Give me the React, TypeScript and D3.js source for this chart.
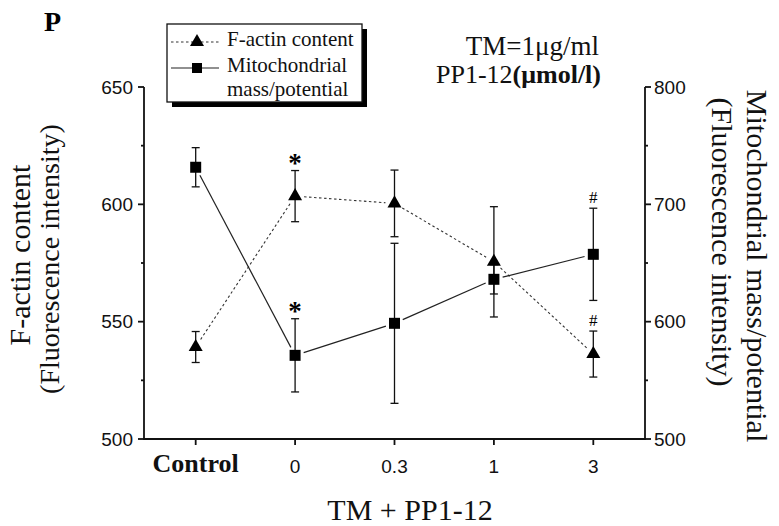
import React from "react";
import * as d3 from "d3";

const categories = ["Control", "0", "0.3", "1", "3"];
const factin = [539.2, 603.5, 600.4, 575.5, 536.2];
const factinErr = [6.6, 10.9, 14.2, 23.5, 9.8];
const mito = [731.6, 571.3, 598.6, 636.1, 657.4];
const mitoErr = [16.7, 31.2, 68.2, 12.5, 39.3];
const leftTicks = [500, 550, 600, 650];
const rightTicks = [500, 600, 700, 800];
// significance marks: [category, symbol]
const factinMarks = [["0", "*"], ["3", "#"]];
const mitoMarks = [["0", "*"], ["3", "#"]];

const W = 779;
const H = 526;
const SERIF = "'Liberation Serif', 'Times New Roman', serif";
const SANS = "'Liberation Sans', Arial, sans-serif";

const x = d3.scalePoint<string>().domain(categories).range([144, 645]).padding(0.52);
const yL = d3.scaleLinear().domain([500, 650]).range([439, 87]);
const yR = d3.scaleLinear().domain([500, 800]).range([439, 87]);

const triPath = d3.symbol(d3.symbolTriangle, 85)() as string;
const sqPath = d3.symbol(d3.symbolSquare, 121)() as string;

function minorOf(ticks: number[]) {
  const out: number[] = [];
  for (let i = 0; i < ticks.length - 1; i++) out.push((ticks[i] + ticks[i + 1]) / 2);
  return out;
}

function trimmedSegments(pts: [number, number][], gap: number) {
  const segs: { x1: number; y1: number; x2: number; y2: number }[] = [];
  for (let i = 0; i < pts.length - 1; i++) {
    const [ax, ay] = pts[i];
    const [bx, by] = pts[i + 1];
    const dx = bx - ax, dy = by - ay;
    const len = Math.hypot(dx, dy);
    const ux = dx / len, uy = dy / len;
    segs.push({ x1: ax + ux * gap, y1: ay + uy * gap, x2: bx - ux * gap, y2: by - uy * gap });
  }
  return segs;
}

export default function App() {
  const xL = 144, xR = 645, yB = 439, yT = 87;
  const fPts = categories.map((c, i) => [x(c)!, yL(factin[i])] as [number, number]);
  const mPts = categories.map((c, i) => [x(c)!, yR(mito[i])] as [number, number]);
  const fSegs = trimmedSegments(fPts, 9);
  const mSegs = trimmedSegments(mPts, 9);

  return (
    <svg width={W} height={H} style={{ position: "absolute", left: 0, top: 0, background: "#fff" }}>
      <rect x={0} y={0} width={W} height={H} fill="#fff" />
      {/* Panel letter */}
      <text x={44} y={31} fontFamily={SERIF} fontWeight="bold" fontSize={28}>P</text>

      {/* Axes */}
      <g stroke="#111" strokeWidth={1.8} fill="none">
        <line x1={xL} y1={yT} x2={xL} y2={yB + 0.9} />
        <line x1={xR} y1={yT} x2={xR} y2={yB + 0.9} />
        <line x1={xL} y1={yB} x2={xR} y2={yB} />
        {leftTicks.map((t) => (
          <line key={"lt" + t} x1={xL - 6} x2={xL} y1={yL(t)} y2={yL(t)} />
        ))}
        {minorOf(leftTicks).map((t) => (
          <line key={"lm" + t} x1={xL - 3} x2={xL} y1={yL(t)} y2={yL(t)} />
        ))}
        {rightTicks.map((t) => (
          <line key={"rt" + t} x1={xR} x2={xR + 6} y1={yR(t)} y2={yR(t)} />
        ))}
        {minorOf(rightTicks).map((t) => (
          <line key={"rm" + t} x1={xR} x2={xR + 3} y1={yR(t)} y2={yR(t)} />
        ))}
        {categories.map((c) => (
          <line key={"xt" + c} x1={x(c)!} x2={x(c)!} y1={yB} y2={yB + 6} />
        ))}
      </g>

      {/* Tick labels */}
      <g fontFamily={SANS} fontSize={19} fill="#111">
        {leftTicks.map((t) => (
          <text key={"ll" + t} x={xL - 11} y={yL(t)} textAnchor="end" dominantBaseline="central">{t}</text>
        ))}
        {rightTicks.map((t) => (
          <text key={"rl" + t} x={xR + 9} y={yR(t)} textAnchor="start" dominantBaseline="central">{t}</text>
        ))}
        {categories.map((c, i) =>
          i === 0 ? (
            <text key={"xl" + c} x={x(c)!} y={472} textAnchor="middle" fontFamily={SERIF} fontWeight="bold" fontSize={26}>{c}</text>
          ) : (
            <text key={"xl" + c} x={x(c)!} y={473} textAnchor="middle">{c}</text>
          )
        )}
      </g>

      {/* Axis titles */}
      <text x={410} y={520} textAnchor="middle" fontFamily={SERIF} fontSize={30} fill="#111">TM + PP1-12</text>
      <text transform="translate(30,255) rotate(-90)" textAnchor="middle" fontFamily={SERIF} fontSize={30} fill="#111">F-actin content</text>
      <text transform="translate(59,259) rotate(-90)" textAnchor="middle" fontFamily={SERIF} fontSize={28} fill="#111">(Fluorescence intensity)</text>
      <text transform="translate(747,266) rotate(90)" textAnchor="middle" fontFamily={SERIF} fontSize={30} fill="#111">Mitochondrial mass/potential</text>
      <text transform="translate(712,242) rotate(90)" textAnchor="middle" fontFamily={SERIF} fontSize={30} fill="#111">(Fluorescence intensity)</text>

      {/* Condition text */}
      <text x={599} y={55} textAnchor="end" fontFamily={SERIF} fontSize={27} fill="#111">TM=1μg/ml</text>
      <text x={601} y={83} textAnchor="end" fontFamily={SERIF} fontSize={26} fill="#111">
        PP1-12<tspan fontWeight="bold">(μmol/l)</tspan>
      </text>

      {/* Error bars */}
      <g stroke="#111" strokeWidth={1.3}>
        {categories.map((c, i) => {
          const cx = x(c)!;
          const t = yL(factin[i] + factinErr[i]);
          const b = yL(factin[i] - factinErr[i]);
          return (
            <g key={"fe" + c}>
              <line x1={cx} x2={cx} y1={t} y2={b} />
              <line x1={cx - 4} x2={cx + 4} y1={t} y2={t} />
              <line x1={cx - 4} x2={cx + 4} y1={b} y2={b} />
            </g>
          );
        })}
        {categories.map((c, i) => {
          const cx = x(c)!;
          const t = yR(mito[i] + mitoErr[i]);
          const b = yR(mito[i] - mitoErr[i]);
          return (
            <g key={"me" + c}>
              <line x1={cx} x2={cx} y1={t} y2={b} />
              <line x1={cx - 4} x2={cx + 4} y1={t} y2={t} />
              <line x1={cx - 4} x2={cx + 4} y1={b} y2={b} />
            </g>
          );
        })}
      </g>

      {/* Lines */}
      <g stroke="#333" strokeWidth={1.1} strokeDasharray="2.5,2.5">
        {fSegs.map((s, i) => <line key={"fs" + i} {...s} />)}
      </g>
      <g stroke="#222" strokeWidth={1.2}>
        {mSegs.map((s, i) => <line key={"ms" + i} {...s} />)}
      </g>

      {/* Markers */}
      {fPts.map(([px, py], i) => (
        <path key={"fm" + i} d={triPath} transform={`translate(${px},${py})`} fill="#000" />
      ))}
      {mPts.map(([px, py], i) => (
        <path key={"mm" + i} d={sqPath} transform={`translate(${px},${py})`} fill="#000" />
      ))}

      {/* Significance marks */}
      {factinMarks.map(([c, s]) => {
        const i = categories.indexOf(c);
        const top = yL(factin[i] + factinErr[i]);
        return s === "*" ? (
          <text key={"fk" + c} x={x(c)!} y={top + 1.5} textAnchor="middle" fontFamily={SERIF} fontWeight="bold" fontSize={27}>*</text>
        ) : (
          <text key={"fk" + c} x={x(c)!} y={top - 5} textAnchor="middle" fontFamily={SERIF} fontSize={17}>#</text>
        );
      })}
      {mitoMarks.map(([c, s]) => {
        const i = categories.indexOf(c);
        const top = yR(mito[i] + mitoErr[i]);
        return s === "*" ? (
          <text key={"mk" + c} x={x(c)!} y={top + 1.5} textAnchor="middle" fontFamily={SERIF} fontWeight="bold" fontSize={27}>*</text>
        ) : (
          <text key={"mk" + c} x={x(c)!} y={top - 5} textAnchor="middle" fontFamily={SERIF} fontSize={17}>#</text>
        );
      })}

      {/* Legend */}
      <rect x={172} y={29} width={195} height={78} fill="#000" />
      <rect x={167} y={24} width={195} height={78} fill="#fff" stroke="#111" strokeWidth={1.3} />
      <line x1={171} x2={219} y1={42} y2={42} stroke="#333" strokeWidth={1.1} strokeDasharray="2.5,2.5" />
      <path d={triPath} transform="translate(197,42)" fill="#000" />
      <line x1={171} x2={219} y1={68} y2={68} stroke="#222" strokeWidth={1.2} />
      <path d={d3.symbol(d3.symbolSquare, 100)() as string} transform="translate(197,68)" fill="#000" />
      <g fontFamily={SERIF} fontSize={21} fill="#111">
        <text x={227} y={46}>F-actin content</text>
        <text x={227} y={72}>Mitochondrial</text>
        <text x={227} y={96}>mass/potential</text>
      </g>
    </svg>
  );
}
